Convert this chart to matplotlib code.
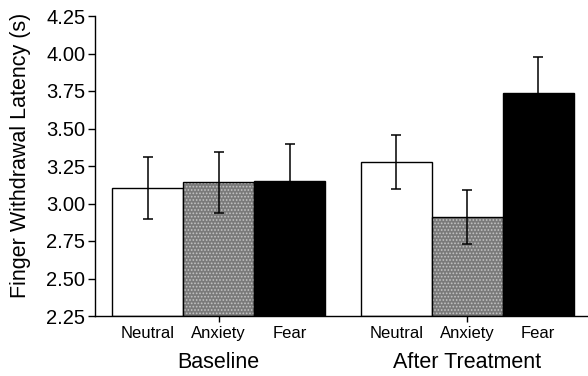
import numpy as np
import matplotlib.pyplot as plt

plt.rcParams['font.family'] = ['Liberation Sans', 'DejaVu Sans']
plt.rcParams['hatch.linewidth'] = 0.8

groups = ['Baseline', 'After Treatment']
conditions = ['Neutral', 'Anxiety', 'Fear']
means = [3.105, 3.14, 3.15, 3.275, 2.91, 3.735]
errors = [0.205, 0.20, 0.25, 0.18, 0.18, 0.245]
y_ticks = [2.25, 2.50, 2.75, 3.00, 3.25, 3.50, 3.75, 4.00, 4.25]

positions = [0, 1, 2, 3.5, 4.5, 5.5]
face = ['white', '#7a7a7a', 'black'] * 2
hatches = [None, '.....', None] * 2

fig = plt.figure(figsize=(5.88, 3.76), dpi=100)
ax = fig.add_axes([95 / 588, 60 / 376, 1 - 95 / 588, 300 / 376])

for x, m, fc, h in zip(positions, means, face, hatches):
    height = m - 2.25
    if h:
        plt.rcParams['hatch.color'] = '#c4c4c4'
        ax.bar(x, height, bottom=2.25, width=1, color=fc, hatch=h,
               edgecolor='#c4c4c4', linewidth=0, zorder=2)
        ax.bar(x, height, bottom=2.25, width=1, fill=False,
               edgecolor='black', linewidth=1, zorder=3)
    else:
        ax.bar(x, height, bottom=2.25, width=1, color=fc,
               edgecolor='black', linewidth=1, zorder=2)

ax.errorbar(positions, means, yerr=errors, fmt='none', ecolor='black',
            elinewidth=1.1, capsize=3.5, capthick=1.1, zorder=4)

ax.set_ylim(2.25, 4.25)
ax.set_xlim(-0.74, 6.2)
ax.set_yticks(y_ticks)
ax.set_yticklabels([f'{t:.2f}' for t in y_ticks], fontsize=14.5)
ax.set_ylabel('Finger Withdrawal Latency (s)', fontsize=15.5)
ax.yaxis.set_label_coords(-0.129, 0.535)

ax.set_xticks([1, 4.5])
ax.set_xticklabels([])
ax.tick_params(axis='x', direction='out', length=4, width=1)
ax.tick_params(axis='y', direction='out', length=5, width=1, pad=2)

for side in ['top', 'right']:
    ax.spines[side].set_visible(False)
for side in ['left', 'bottom']:
    ax.spines[side].set_linewidth(1)

trans = ax.get_xaxis_transform()
for x, name in zip(positions, conditions * 2):
    ax.text(x, -0.057, name, transform=trans, ha='center', va='center',
            fontsize=12)
for x, g in zip([1, 4.5], groups):
    ax.text(x, -0.155, g, transform=trans, ha='center', va='center',
            fontsize=15.5)

fig.savefig('out.png', dpi=100)
